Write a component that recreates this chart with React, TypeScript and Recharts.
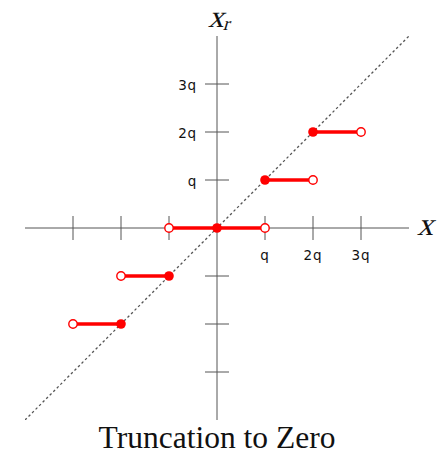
import { ComposedChart, Line, ReferenceDot, ReferenceLine, XAxis, YAxis } from 'recharts';

const RED = '#ff0000';
const AXIS_GRAY = '#555555';

const AXIS_EXTENT = 4;
const TICK_HALF = 0.25;
const X_TICKS = [-3, -2, -1, 1, 2, 3];
const Y_TICKS = [-3, -2, -1, 1, 2, 3];
const LABEL_VALUES = [1, 2, 3];
const LABEL_TEXTS = ['q', '2q', '3q'];

interface StepPoint {
    x: number;
    y: number;
    open: boolean;
}

const LEVEL_MINUS_2: StepPoint[] = [
    { x: -3, y: -2, open: true },
    { x: -2, y: -2, open: false },
];
const LEVEL_MINUS_1: StepPoint[] = [
    { x: -2, y: -1, open: true },
    { x: -1, y: -1, open: false },
];
const LEVEL_0: StepPoint[] = [
    { x: -1, y: 0, open: true },
    { x: 0, y: 0, open: false },
    { x: 1, y: 0, open: true },
];
const LEVEL_1: StepPoint[] = [
    { x: 1, y: 1, open: false },
    { x: 2, y: 1, open: true },
];
const LEVEL_2: StepPoint[] = [
    { x: 2, y: 2, open: false },
    { x: 3, y: 2, open: true },
];
const STEP_LEVELS = [LEVEL_MINUS_2, LEVEL_MINUS_1, LEVEL_0, LEVEL_1, LEVEL_2];

const IDENTITY_LINE = [
    { x: -AXIS_EXTENT, y: -AXIS_EXTENT },
    { x: AXIS_EXTENT, y: AXIS_EXTENT },
];
const X_AXIS_LINE = [
    { x: -AXIS_EXTENT, y: 0 },
    { x: AXIS_EXTENT, y: 0 },
];
const Y_AXIS_LINE = [
    { x: 0, y: -AXIS_EXTENT },
    { x: 0, y: AXIS_EXTENT },
];

function StepDot(props: any) {
    const { cx, cy, payload, index } = props;
    if (cx == null || cy == null) {
        return <g key={index} />;
    }

    if (payload.open) {
        return (
            <circle key={index} cx={cx} cy={cy} r={4.2} fill="#fff" stroke={RED} strokeWidth={1.4} />
        );
    }

    return <circle key={index} cx={cx} cy={cy} r={4.8} fill={RED} stroke="none" />;
}

const tickTextStyle = {
    fontFamily: '"DejaVu Sans", sans-serif',
    fontSize: 13.5,
    letterSpacing: 0.8,
    fill: '#111',
};

// no serif italic face installed, so slant the regular one
const mathStyle = {
    fontFamily: '"Liberation Serif", serif',
    fill: '#111',
};

export default function App() {
    return (
        <div style={{ position: 'absolute', left: 0, top: 0, background: '#fff' }}>
            <ComposedChart
                width={441}
                height={468}
                margin={{ top: 36, right: 32, bottom: 48, left: 25 }}
            >
                <XAxis
                    type="number"
                    dataKey="x"
                    domain={[-AXIS_EXTENT, AXIS_EXTENT]}
                    allowDataOverflow
                    hide
                />
                <YAxis
                    type="number"
                    dataKey="y"
                    domain={[-AXIS_EXTENT, AXIS_EXTENT]}
                    allowDataOverflow
                    hide
                />

                <Line
                    data={X_AXIS_LINE}
                    dataKey="y"
                    stroke={AXIS_GRAY}
                    strokeWidth={1}
                    dot={false}
                    isAnimationActive={false}
                />
                <Line
                    data={Y_AXIS_LINE}
                    dataKey="y"
                    stroke={AXIS_GRAY}
                    strokeWidth={1}
                    dot={false}
                    isAnimationActive={false}
                />

                {X_TICKS.map((t) => (
                    <ReferenceLine
                        key={`xt${t}`}
                        segment={[
                            { x: t, y: -TICK_HALF },
                            { x: t, y: TICK_HALF },
                        ]}
                        stroke={AXIS_GRAY}
                        strokeWidth={1}
                    />
                ))}
                {Y_TICKS.map((t) => (
                    <ReferenceLine
                        key={`yt${t}`}
                        segment={[
                            { x: -TICK_HALF, y: t },
                            { x: TICK_HALF, y: t },
                        ]}
                        stroke={AXIS_GRAY}
                        strokeWidth={1}
                    />
                ))}

                <Line
                    data={IDENTITY_LINE}
                    dataKey="y"
                    stroke="#555"
                    strokeWidth={1.3}
                    strokeDasharray="2.5 2.5"
                    dot={false}
                    isAnimationActive={false}
                />

                {STEP_LEVELS.map((level, i) => (
                    <Line
                        key={`lvl${i}`}
                        data={level}
                        dataKey="y"
                        stroke={RED}
                        strokeWidth={3.5}
                        dot={StepDot}
                        activeDot={false}
                        isAnimationActive={false}
                    />
                ))}

                {LABEL_VALUES.map((v, i) => (
                    <ReferenceDot
                        key={`xl${v}`}
                        x={v}
                        y={0}
                        r={0}
                        shape={(p: any) => (
                            <text x={p.cx} y={p.cy + 32} textAnchor="middle" style={tickTextStyle}>
                                {LABEL_TEXTS[i]}
                            </text>
                        )}
                    />
                ))}
                {LABEL_VALUES.map((v, i) => (
                    <ReferenceDot
                        key={`yl${v}`}
                        x={0}
                        y={v}
                        r={0}
                        shape={(p: any) => (
                            <text x={p.cx - 20} y={p.cy + 6} textAnchor="end" style={tickTextStyle}>
                                {LABEL_TEXTS[i]}
                            </text>
                        )}
                    />
                ))}

                <ReferenceDot
                    x={AXIS_EXTENT}
                    y={0}
                    r={0}
                    ifOverflow="visible"
                    shape={(p: any) => (
                        <text
                            transform={`translate(${p.cx + 8},${p.cy + 7}) skewX(-16)`}
                            style={{ ...mathStyle, fontSize: 32 }}
                        >
                            x
                        </text>
                    )}
                />
                <ReferenceDot
                    x={0}
                    y={AXIS_EXTENT}
                    r={0}
                    ifOverflow="visible"
                    shape={(p: any) => (
                        <text
                            transform={`translate(${p.cx - 9},${p.cy - 9}) skewX(-16)`}
                            style={{ ...mathStyle, fontSize: 31 }}
                        >
                            x
                            <tspan dy={3} fontSize={19}>r</tspan>
                        </text>
                    )}
                />
                <ReferenceDot
                    x={0}
                    y={-AXIS_EXTENT}
                    r={0}
                    ifOverflow="visible"
                    shape={(p: any) => (
                        <text
                            x={p.cx}
                            y={p.cy + 28}
                            textAnchor="middle"
                            style={{ fontFamily: '"Liberation Serif", serif', fontSize: 31.5, fill: '#111' }}
                        >
                            Truncation to Zero
                        </text>
                    )}
                />
            </ComposedChart>
        </div>
    );
}
